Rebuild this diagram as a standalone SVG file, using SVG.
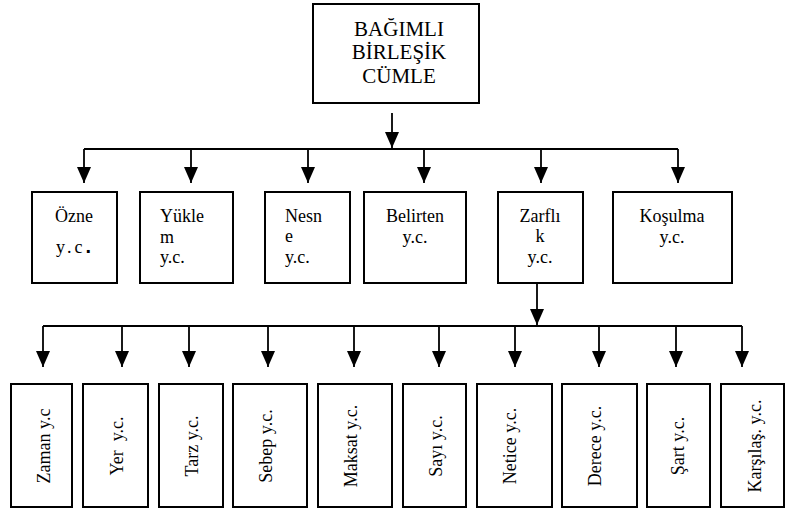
<svg xmlns="http://www.w3.org/2000/svg" width="785" height="508" viewBox="0 0 785 508">
<style>
.box{fill:#fff;stroke:#000;stroke-width:2}
.ln{fill:none;stroke:#000;stroke-width:1.8}
.t{font-family:"Liberation Serif","Times New Roman",serif;fill:#000}
.t1{font-size:21px}
.t2{font-size:18px}
.t3{font-size:18px}
.m{text-anchor:middle}
</style>
<defs>
<marker id="ah" viewBox="0 0 16 14" refX="16" refY="7" markerWidth="16" markerHeight="14" markerUnits="userSpaceOnUse" orient="auto">
<path d="M0,0 L16,7 L0,14 Z" fill="#000"/>
</marker>
</defs>
<rect width="785" height="508" fill="#fff"/>
<g id="connectors">
<path class="ln" d="M392,113 V148" marker-end="url(#ah)"/>
<path class="ln" d="M84,149 H678"/>
<path class="ln" d="M84,149 V183" marker-end="url(#ah)"/>
<path class="ln" d="M191,149 V183" marker-end="url(#ah)"/>
<path class="ln" d="M308,149 V183" marker-end="url(#ah)"/>
<path class="ln" d="M424,149 V183" marker-end="url(#ah)"/>
<path class="ln" d="M541,149 V183" marker-end="url(#ah)"/>
<path class="ln" d="M678,149 V183" marker-end="url(#ah)"/>
<path class="ln" d="M537,283 V325" marker-end="url(#ah)"/>
<path class="ln" d="M43,326 H742"/>
<path class="ln" d="M43,326 V367" marker-end="url(#ah)"/>
<path class="ln" d="M122,326 V367" marker-end="url(#ah)"/>
<path class="ln" d="M189,326 V367" marker-end="url(#ah)"/>
<path class="ln" d="M268,326 V367" marker-end="url(#ah)"/>
<path class="ln" d="M354,326 V367" marker-end="url(#ah)"/>
<path class="ln" d="M439,326 V367" marker-end="url(#ah)"/>
<path class="ln" d="M515,326 V367" marker-end="url(#ah)"/>
<path class="ln" d="M599,326 V367" marker-end="url(#ah)"/>
<path class="ln" d="M676,326 V367" marker-end="url(#ah)"/>
<path class="ln" d="M742,326 V367" marker-end="url(#ah)"/>
</g>
<g id="root">
<rect class="box" x="313" y="4" width="166" height="99"/>
<text class="t t1 m" x="399" y="36">BAĞIMLI</text>
<text class="t t1 m" x="399" y="59">BİRLEŞİK</text>
<text class="t t1 m" x="399" y="83">CÜMLE</text>
</g>
<g id="ozne">
<rect class="box" x="32" y="192" width="85" height="91"/>
<text class="t t2 m" x="74" y="222">Özne</text>
<text class="t t2 m" x="75" y="253" letter-spacing="3">y.c<tspan font-family="Liberation Sans" font-weight="bold" font-size="20">.</tspan></text>
</g>
<g id="yuklem">
<rect class="box" x="140" y="192" width="93" height="91"/>
<text class="t t2" x="160" y="222">Yükle</text>
<text class="t t2" x="160" y="243">m</text>
<text class="t t2" x="160" y="263">y.c.</text>
</g>
<g id="nesne">
<rect class="box" x="265" y="192" width="85" height="91"/>
<text class="t t2" x="285" y="222">Nesn</text>
<text class="t t2" x="285" y="242">e</text>
<text class="t t2" x="285" y="263">y.c.</text>
</g>
<g id="belirten">
<rect class="box" x="364" y="192" width="102" height="91"/>
<text class="t t2 m" x="415" y="222">Belirten</text>
<text class="t t2 m" x="415" y="243">y.c.</text>
</g>
<g id="zarflik">
<rect class="box" x="498" y="192" width="85" height="91"/>
<text class="t t2 m" x="540" y="222">Zarflı</text>
<text class="t t2 m" x="540" y="242">k</text>
<text class="t t2 m" x="540" y="263">y.c.</text>
</g>
<g id="kosulma">
<rect class="box" x="613" y="192" width="119" height="91"/>
<text class="t t2 m" x="672" y="222">Koşulma</text>
<text class="t t2 m" x="672" y="243">y.c.</text>
</g>
<g id="zaman">
<rect class="box" x="11" y="384" width="61" height="123"/>
<text class="t t3 m" transform="translate(50,446) rotate(-90)">Zaman y.c</text>
</g>
<g id="yer">
<rect class="box" x="83" y="384" width="65" height="123"/>
<text class="t t3 m" transform="translate(123,446) rotate(-90)" xml:space="preserve">Yer  y.c.</text>
</g>
<g id="tarz">
<rect class="box" x="159" y="384" width="64" height="123"/>
<text class="t t3 m" transform="translate(198,446) rotate(-90)">Tarz y.c.</text>
</g>
<g id="sebep">
<rect class="box" x="233" y="384" width="74" height="123"/>
<text class="t t3 m" transform="translate(272,446) rotate(-90)">Sebep y.c.</text>
</g>
<g id="maksat">
<rect class="box" x="318" y="384" width="74" height="123"/>
<text class="t t3 m" transform="translate(357,446) rotate(-90)">Maksat y.c.</text>
</g>
<g id="sayi">
<rect class="box" x="403" y="384" width="63" height="123"/>
<text class="t t3 m" transform="translate(442,446) rotate(-90)">Sayı y.c.</text>
</g>
<g id="netice">
<rect class="box" x="477" y="384" width="75" height="123"/>
<text class="t t3 m" transform="translate(516,446) rotate(-90)">Netice y.c.</text>
</g>
<g id="derece">
<rect class="box" x="562" y="384" width="75" height="123"/>
<text class="t t3 m" transform="translate(601,446) rotate(-90)">Derece y.c.</text>
</g>
<g id="sart">
<rect class="box" x="647" y="384" width="63" height="123"/>
<text class="t t3 m" transform="translate(684,446) rotate(-90)">Şart y.c.</text>
</g>
<g id="karsilas">
<rect class="box" x="721" y="384" width="63" height="123"/>
<text class="t t3 m" transform="translate(761,446) rotate(-90)">Karşılaş. y.c.</text>
</g>
</svg>
